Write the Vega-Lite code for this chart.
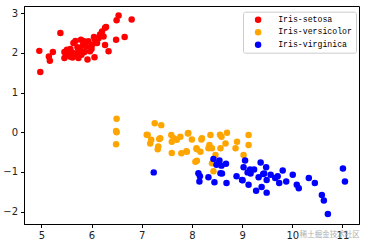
{
  "$schema": "https://vega.github.io/schema/vega-lite/v6.json",
  "autosize": "none",
  "width": 335,
  "height": 218,
  "padding": {"left": 24, "top": 6, "right": 7, "bottom": 22},
  "background": "white",
  "config": {
    "view": {"stroke": "black", "strokeWidth": 1},
    "font": "DejaVu Sans"
  },
  "datasets": {
    "iris": [
      {"x": 4.96, "y": 2.05, "s": "Iris-setosa"},
      {"x": 4.98, "y": 1.52, "s": "Iris-setosa"},
      {"x": 5.17, "y": 1.80, "s": "Iris-setosa"},
      {"x": 5.15, "y": 1.91, "s": "Iris-setosa"},
      {"x": 5.23, "y": 2.02, "s": "Iris-setosa"},
      {"x": 5.38, "y": 2.50, "s": "Iris-setosa"},
      {"x": 5.46, "y": 1.87, "s": "Iris-setosa"},
      {"x": 5.46, "y": 2.02, "s": "Iris-setosa"},
      {"x": 5.51, "y": 2.08, "s": "Iris-setosa"},
      {"x": 5.54, "y": 1.95, "s": "Iris-setosa"},
      {"x": 5.57, "y": 1.91, "s": "Iris-setosa"},
      {"x": 5.64, "y": 2.25, "s": "Iris-setosa"},
      {"x": 5.61, "y": 2.01, "s": "Iris-setosa"},
      {"x": 5.65, "y": 1.93, "s": "Iris-setosa"},
      {"x": 5.69, "y": 1.99, "s": "Iris-setosa"},
      {"x": 5.74, "y": 1.87, "s": "Iris-setosa"},
      {"x": 5.77, "y": 2.08, "s": "Iris-setosa"},
      {"x": 5.79, "y": 2.33, "s": "Iris-setosa"},
      {"x": 5.83, "y": 2.20, "s": "Iris-setosa"},
      {"x": 5.85, "y": 2.29, "s": "Iris-setosa"},
      {"x": 5.92, "y": 1.83, "s": "Iris-setosa"},
      {"x": 5.89, "y": 2.16, "s": "Iris-setosa"},
      {"x": 5.94, "y": 2.29, "s": "Iris-setosa"},
      {"x": 5.97, "y": 2.04, "s": "Iris-setosa"},
      {"x": 6.01, "y": 2.20, "s": "Iris-setosa"},
      {"x": 6.06, "y": 1.89, "s": "Iris-setosa"},
      {"x": 6.07, "y": 2.33, "s": "Iris-setosa"},
      {"x": 6.11, "y": 2.25, "s": "Iris-setosa"},
      {"x": 6.14, "y": 2.37, "s": "Iris-setosa"},
      {"x": 6.17, "y": 2.46, "s": "Iris-setosa"},
      {"x": 6.21, "y": 2.54, "s": "Iris-setosa"},
      {"x": 6.24, "y": 2.41, "s": "Iris-setosa"},
      {"x": 6.27, "y": 2.63, "s": "Iris-setosa"},
      {"x": 6.29, "y": 2.65, "s": "Iris-setosa"},
      {"x": 6.27, "y": 2.20, "s": "Iris-setosa"},
      {"x": 6.34, "y": 2.04, "s": "Iris-setosa"},
      {"x": 6.50, "y": 2.82, "s": "Iris-setosa"},
      {"x": 6.54, "y": 2.94, "s": "Iris-setosa"},
      {"x": 6.49, "y": 2.33, "s": "Iris-setosa"},
      {"x": 6.66, "y": 2.40, "s": "Iris-setosa"},
      {"x": 6.80, "y": 2.84, "s": "Iris-setosa"},
      {"x": 5.58, "y": 2.10, "s": "Iris-setosa"},
      {"x": 5.72, "y": 2.14, "s": "Iris-setosa"},
      {"x": 5.86, "y": 2.02, "s": "Iris-setosa"},
      {"x": 5.50, "y": 1.96, "s": "Iris-setosa"},
      {"x": 5.80, "y": 1.95, "s": "Iris-setosa"},
      {"x": 6.00, "y": 2.10, "s": "Iris-setosa"},
      {"x": 5.68, "y": 2.30, "s": "Iris-setosa"},
      {"x": 6.05, "y": 2.40, "s": "Iris-setosa"},
      {"x": 5.62, "y": 1.88, "s": "Iris-setosa"},

      {"x": 6.50, "y": 0.34, "s": "Iris-versicolor"},
      {"x": 6.49, "y": 0.03, "s": "Iris-versicolor"},
      {"x": 6.50, "y": 0.00, "s": "Iris-versicolor"},
      {"x": 6.49, "y": -0.30, "s": "Iris-versicolor"},
      {"x": 7.26, "y": 0.23, "s": "Iris-versicolor"},
      {"x": 7.39, "y": 0.18, "s": "Iris-versicolor"},
      {"x": 7.10, "y": -0.06, "s": "Iris-versicolor"},
      {"x": 7.12, "y": -0.07, "s": "Iris-versicolor"},
      {"x": 7.17, "y": -0.28, "s": "Iris-versicolor"},
      {"x": 7.19, "y": -0.19, "s": "Iris-versicolor"},
      {"x": 7.37, "y": -0.15, "s": "Iris-versicolor"},
      {"x": 7.35, "y": -0.17, "s": "Iris-versicolor"},
      {"x": 7.32, "y": -0.43, "s": "Iris-versicolor"},
      {"x": 7.33, "y": -0.36, "s": "Iris-versicolor"},
      {"x": 7.59, "y": -0.07, "s": "Iris-versicolor"},
      {"x": 7.60, "y": -0.24, "s": "Iris-versicolor"},
      {"x": 7.64, "y": -0.15, "s": "Iris-versicolor"},
      {"x": 7.70, "y": -0.19, "s": "Iris-versicolor"},
      {"x": 7.77, "y": -0.11, "s": "Iris-versicolor"},
      {"x": 7.92, "y": -0.03, "s": "Iris-versicolor"},
      {"x": 7.60, "y": -0.52, "s": "Iris-versicolor"},
      {"x": 7.79, "y": -0.53, "s": "Iris-versicolor"},
      {"x": 7.90, "y": -0.49, "s": "Iris-versicolor"},
      {"x": 8.00, "y": -0.18, "s": "Iris-versicolor"},
      {"x": 8.09, "y": -0.40, "s": "Iris-versicolor"},
      {"x": 8.07, "y": -0.74, "s": "Iris-versicolor"},
      {"x": 8.17, "y": -0.49, "s": "Iris-versicolor"},
      {"x": 8.19, "y": -0.18, "s": "Iris-versicolor"},
      {"x": 8.20, "y": -0.15, "s": "Iris-versicolor"},
      {"x": 8.37, "y": -0.07, "s": "Iris-versicolor"},
      {"x": 8.35, "y": -0.32, "s": "Iris-versicolor"},
      {"x": 8.40, "y": -0.40, "s": "Iris-versicolor"},
      {"x": 8.10, "y": -0.43, "s": "Iris-versicolor"},
      {"x": 8.59, "y": -0.11, "s": "Iris-versicolor"},
      {"x": 8.70, "y": -0.01, "s": "Iris-versicolor"},
      {"x": 8.67, "y": -0.28, "s": "Iris-versicolor"},
      {"x": 8.57, "y": -0.40, "s": "Iris-versicolor"},
      {"x": 8.90, "y": -0.24, "s": "Iris-versicolor"},
      {"x": 8.87, "y": -0.40, "s": "Iris-versicolor"},
      {"x": 9.13, "y": -0.07, "s": "Iris-versicolor"},
      {"x": 9.13, "y": -0.32, "s": "Iris-versicolor"},
      {"x": 9.03, "y": -0.57, "s": "Iris-versicolor"},
      {"x": 8.47, "y": -0.57, "s": "Iris-versicolor"},
      {"x": 8.10, "y": -0.72, "s": "Iris-versicolor"},
      {"x": 7.93, "y": -0.02, "s": "Iris-versicolor"},
      {"x": 8.56, "y": -0.06, "s": "Iris-versicolor"},
      {"x": 8.33, "y": -0.40, "s": "Iris-versicolor"},
      {"x": 8.43, "y": -0.98, "s": "Iris-versicolor"},
      {"x": 8.40, "y": -0.78, "s": "Iris-versicolor"},
      {"x": 7.89, "y": -0.48, "s": "Iris-versicolor"},

      {"x": 7.24, "y": -1.01, "s": "Iris-virginica"},
      {"x": 8.13, "y": -1.03, "s": "Iris-virginica"},
      {"x": 8.16, "y": -1.11, "s": "Iris-virginica"},
      {"x": 8.15, "y": -1.24, "s": "Iris-virginica"},
      {"x": 8.33, "y": -1.13, "s": "Iris-virginica"},
      {"x": 8.45, "y": -1.26, "s": "Iris-virginica"},
      {"x": 8.43, "y": -0.67, "s": "Iris-virginica"},
      {"x": 8.49, "y": -0.82, "s": "Iris-virginica"},
      {"x": 8.55, "y": -0.71, "s": "Iris-virginica"},
      {"x": 8.59, "y": -0.84, "s": "Iris-virginica"},
      {"x": 8.57, "y": -1.03, "s": "Iris-virginica"},
      {"x": 8.68, "y": -0.79, "s": "Iris-virginica"},
      {"x": 8.69, "y": -1.28, "s": "Iris-virginica"},
      {"x": 8.89, "y": -1.11, "s": "Iris-virginica"},
      {"x": 9.01, "y": -1.21, "s": "Iris-virginica"},
      {"x": 9.06, "y": -0.71, "s": "Iris-virginica"},
      {"x": 9.03, "y": -0.88, "s": "Iris-virginica"},
      {"x": 9.11, "y": -1.01, "s": "Iris-virginica"},
      {"x": 9.13, "y": -1.32, "s": "Iris-virginica"},
      {"x": 9.16, "y": -0.94, "s": "Iris-virginica"},
      {"x": 9.24, "y": -0.94, "s": "Iris-virginica"},
      {"x": 9.28, "y": -1.47, "s": "Iris-virginica"},
      {"x": 9.33, "y": -1.13, "s": "Iris-virginica"},
      {"x": 9.37, "y": -0.76, "s": "Iris-virginica"},
      {"x": 9.39, "y": -1.38, "s": "Iris-virginica"},
      {"x": 9.48, "y": -0.88, "s": "Iris-virginica"},
      {"x": 9.44, "y": -1.04, "s": "Iris-virginica"},
      {"x": 9.49, "y": -1.20, "s": "Iris-virginica"},
      {"x": 9.49, "y": -1.52, "s": "Iris-virginica"},
      {"x": 9.57, "y": -1.07, "s": "Iris-virginica"},
      {"x": 9.66, "y": -1.15, "s": "Iris-virginica"},
      {"x": 9.71, "y": -1.11, "s": "Iris-virginica"},
      {"x": 9.74, "y": -1.28, "s": "Iris-virginica"},
      {"x": 9.81, "y": -0.96, "s": "Iris-virginica"},
      {"x": 9.88, "y": -1.24, "s": "Iris-virginica"},
      {"x": 10.01, "y": -1.07, "s": "Iris-virginica"},
      {"x": 10.09, "y": -1.32, "s": "Iris-virginica"},
      {"x": 10.13, "y": -1.41, "s": "Iris-virginica"},
      {"x": 10.33, "y": -1.15, "s": "Iris-virginica"},
      {"x": 10.45, "y": -1.28, "s": "Iris-virginica"},
      {"x": 10.59, "y": -1.58, "s": "Iris-virginica"},
      {"x": 10.63, "y": -1.72, "s": "Iris-virginica"},
      {"x": 10.71, "y": -2.06, "s": "Iris-virginica"},
      {"x": 11.01, "y": -0.91, "s": "Iris-virginica"},
      {"x": 11.05, "y": -1.24, "s": "Iris-virginica"},
      {"x": 8.53, "y": -0.78, "s": "Iris-virginica"},
      {"x": 8.60, "y": -1.04, "s": "Iris-virginica"},
      {"x": 9.17, "y": -1.04, "s": "Iris-virginica"},
      {"x": 9.00, "y": -1.20, "s": "Iris-virginica"},
      {"x": 9.42, "y": -1.05, "s": "Iris-virginica"}
    ]
  },
  "layer": [
    {
      "data": {"name": "iris"},
      "mark": {"type": "point", "filled": true, "shape": "circle", "size": 42, "opacity": 1},
      "encoding": {
        "x": {
          "field": "x", "type": "quantitative",
          "scale": {"domain": [4.655, 11.33], "nice": false, "zero": false},
          "axis": {
            "title": null, "values": [5, 6, 7, 8, 9, 10, 11], "grid": false,
            "domainColor": "black", "tickColor": "black", "tickSize": 3.5,
            "labelPadding": 3, "labelFontSize": 10, "labelColor": "#222", "labelFont": "DejaVu Sans"
          }
        },
        "y": {
          "field": "y", "type": "quantitative",
          "scale": {"domain": [-2.31, 3.18], "nice": false, "zero": false},
          "axis": {
            "title": null, "values": [-2, -1, 0, 1, 2, 3], "grid": false,
            "domainColor": "black", "tickColor": "black", "tickSize": 3.5,
            "labelPadding": 3, "labelFontSize": 10, "labelColor": "#222", "labelFont": "DejaVu Sans"
          }
        },
        "color": {
          "field": "s", "type": "nominal",
          "scale": {
            "domain": ["Iris-setosa", "Iris-versicolor", "Iris-virginica"],
            "range": ["#ff0000", "#ffa500", "#0000ff"]
          },
          "legend": {
            "title": null, "orient": "none", "legendX": 219, "legendY": 5.7,
            "padding": 4, "symbolOffset": 7, "symbolSize": 42, "symbolType": "circle",
            "labelOffset": 16, "labelFont": "Liberation Mono", "labelFontSize": 8.2,
            "labelColor": "black", "rowPadding": 3.5,
            "strokeColor": "#cccccc", "cornerRadius": 2, "fillColor": "white"
          }
        }
      }
    },
    {
      "data": {"values": [{"t": "稀土掘金技术社区"}]},
      "mark": {
        "type": "text", "font": "Noto Sans CJK SC", "fontSize": 7.5, "color": "#999999",
        "opacity": 0.8, "align": "left", "baseline": "middle", "clip": false
      },
      "encoding": {
        "text": {"field": "t"},
        "x": {"datum": 10.15},
        "y": {"datum": -2.58}
      }
    }
  ]
}
